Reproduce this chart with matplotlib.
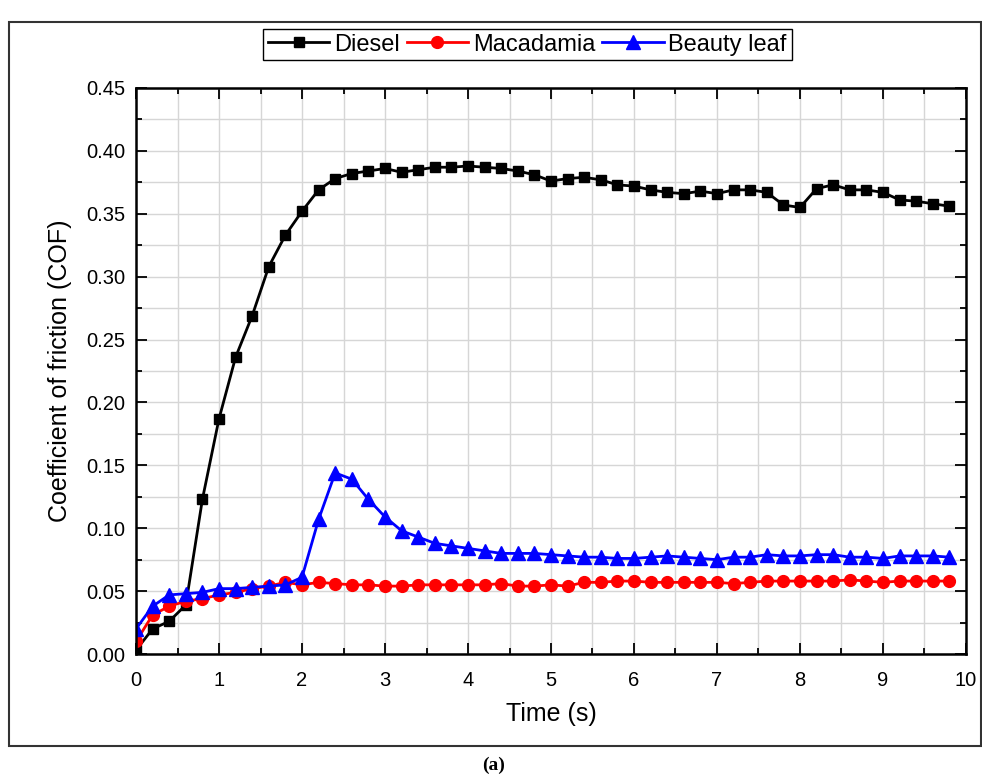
import numpy as np
import matplotlib.pyplot as plt
from matplotlib.patches import Rectangle
from matplotlib.ticker import MultipleLocator

# time axis (s), one sample every 0.2 s
time_s = [0.0, 0.2, 0.4, 0.6, 0.8, 1.0, 1.2, 1.4, 1.6, 1.8,
          2.0, 2.2, 2.4, 2.6, 2.8, 3.0, 3.2, 3.4, 3.6, 3.8,
          4.0, 4.2, 4.4, 4.6, 4.8, 5.0, 5.2, 5.4, 5.6, 5.8,
          6.0, 6.2, 6.4, 6.6, 6.8, 7.0, 7.2, 7.4, 7.6, 7.8,
          8.0, 8.2, 8.4, 8.6, 8.8, 9.0, 9.2, 9.4, 9.6, 9.8]

diesel = [0.003, 0.020, 0.026, 0.039, 0.123, 0.187, 0.236, 0.269, 0.308, 0.333,
          0.352, 0.369, 0.378, 0.382, 0.384, 0.386, 0.383, 0.385, 0.387, 0.387,
          0.388, 0.387, 0.386, 0.384, 0.381, 0.376, 0.378, 0.379, 0.377, 0.373,
          0.372, 0.369, 0.367, 0.366, 0.368, 0.366, 0.369, 0.369, 0.367, 0.357,
          0.355, 0.370, 0.373, 0.369, 0.369, 0.367, 0.361, 0.360, 0.358, 0.356]

macadamia = [0.010, 0.031, 0.038, 0.042, 0.044, 0.047, 0.049, 0.052, 0.054, 0.057,
             0.055, 0.057, 0.056, 0.055, 0.055, 0.054, 0.054, 0.055, 0.055, 0.055,
             0.055, 0.055, 0.056, 0.054, 0.054, 0.055, 0.054, 0.057, 0.057, 0.058,
             0.058, 0.057, 0.057, 0.057, 0.057, 0.057, 0.056, 0.057, 0.058, 0.058,
             0.058, 0.058, 0.058, 0.059, 0.058, 0.057, 0.058, 0.058, 0.058, 0.058]

beauty_leaf = [0.020, 0.038, 0.047, 0.048, 0.049, 0.052, 0.052, 0.053, 0.054, 0.055,
               0.061, 0.107, 0.144, 0.139, 0.123, 0.109, 0.098, 0.093, 0.088, 0.086,
               0.084, 0.082, 0.080, 0.080, 0.080, 0.079, 0.078, 0.077, 0.077, 0.076,
               0.076, 0.077, 0.078, 0.077, 0.076, 0.075, 0.077, 0.077, 0.079, 0.078,
               0.078, 0.079, 0.079, 0.077, 0.077, 0.076, 0.078, 0.078, 0.078, 0.077]

plt.rcParams['font.family'] = ['Liberation Sans', 'DejaVu Sans']

fig = plt.figure(figsize=(9.82, 7.8), dpi=100)
ax = fig.add_axes([0.1385, 0.1615, 0.8452, 0.7257])

ax.plot(time_s, diesel, 'k-', marker='s', markersize=7.5, linewidth=2, label='Diesel')
ax.plot(time_s, macadamia, color='#ff0000', marker='o', markersize=8.5, linewidth=2, label='Macadamia')
ax.plot(time_s, beauty_leaf, color='#0000ff', marker='^', markersize=9.5, linewidth=2, label='Beauty leaf')

ax.set_xlim(0, 10)
ax.set_ylim(0, 0.45)
ax.xaxis.set_major_locator(MultipleLocator(1))
ax.xaxis.set_minor_locator(MultipleLocator(0.5))
ax.yaxis.set_major_locator(MultipleLocator(0.05))
ax.yaxis.set_minor_locator(MultipleLocator(0.025))
ax.yaxis.set_major_formatter(plt.FormatStrFormatter('%.2f'))

ax.grid(True, which='both', color='#d6d6d6', linewidth=1)
ax.set_axisbelow(True)
ax.tick_params(which='both', direction='in', top=True, right=True, labelsize=14.5, width=1.3)
ax.tick_params(which='major', length=8)
ax.tick_params(axis='x', which='major', pad=12)
ax.tick_params(axis='y', which='major', pad=8)
ax.tick_params(which='minor', length=4)
for sp in ax.spines.values():
    sp.set_linewidth(1.8)

ax.set_xlabel('Time (s)', fontsize=18, labelpad=9)
ax.set_ylabel('Coefficient of friction (COF)', fontsize=18, labelpad=10)

leg = fig.legend(loc='upper center', bbox_to_anchor=(0.537, 0.963), ncol=3, fontsize=17,
                 frameon=True, fancybox=False, framealpha=1, edgecolor='black',
                 handlelength=2.6, handletextpad=0.2, columnspacing=0.3,
                 borderpad=0.2, borderaxespad=0)
leg.get_frame().set_linewidth(1)

# outer frame around the panel
fig.patches.append(Rectangle((0.009, 1 - 746 / 780), 0.99, (746 - 22) / 780,
                             transform=fig.transFigure, fill=False,
                             edgecolor='#333333', linewidth=1.5))

fig.text(0.503, 1 - 765 / 780, '(a)', ha='center', va='center', fontsize=14,
         fontweight='bold', family=['Liberation Serif', 'DejaVu Serif'])

fig.savefig('out.png', dpi=100)
